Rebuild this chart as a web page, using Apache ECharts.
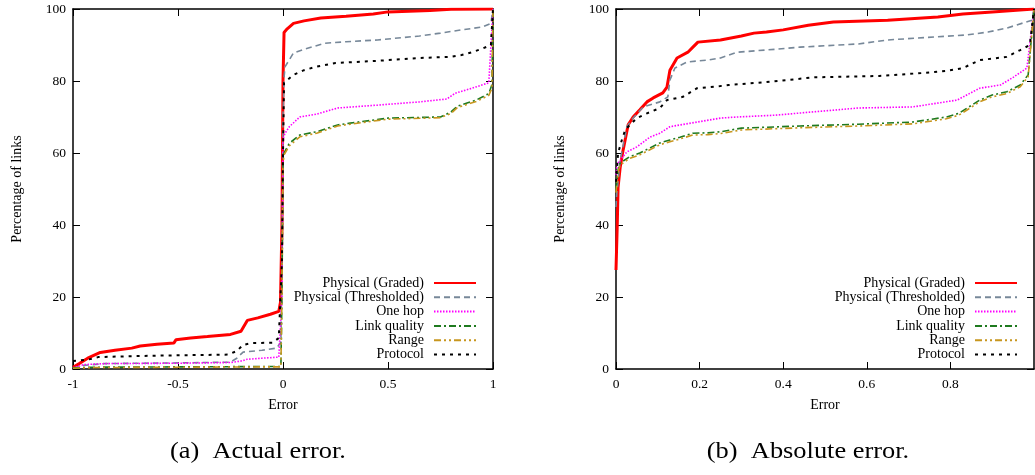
<!DOCTYPE html>
<html>
<head>
<meta charset="utf-8">
<script src="https://cdn.jsdelivr.net/npm/echarts@6/dist/echarts.min.js"></script>
<style>
  html, body { margin: 0; padding: 0; background: #fff; }
  #chart { width: 1035px; height: 475px; }
</style>
</head>
<body>
<div id="chart"></div>
<script>
// Series names, in legend order
const seriesNames = ['Physical (Graded)', 'Physical (Thresholded)', 'One hop', 'Link quality', 'Range', 'Protocol'];

// Tick values
const actualTicks = [-1, -0.5, 0, 0.5, 1];
const absoluteTicks = [0, 0.2, 0.4, 0.6, 0.8, 1];
const percentTicks = [0, 20, 40, 60, 80, 100];

// (a) Actual error: [error, percentage of links]
const actualGraded = [[-1,0.5],[-0.97,1.5],[-0.93,3],[-0.87,4.6],[-0.8,5.2],[-0.72,5.8],[-0.68,6.4],[-0.6,6.9],[-0.52,7.2],[-0.51,8.1],[-0.44,8.6],[-0.36,9.0],[-0.25,9.6],[-0.2,10.5],[-0.17,13.5],[-0.12,14.2],[-0.06,15.2],[-0.02,16],[-0.012,18.5],[-0.005,40],[0,80],[0.005,93.5],[0.02,94.5],[0.05,96],[0.1,96.7],[0.18,97.5],[0.3,98],[0.43,98.6],[0.5,99.2],[0.7,99.6],[0.8,99.9],[1,100]];
const actualThresholded = [[-1,0.3],[-0.95,1.0],[-0.85,1.5],[-0.5,1.7],[-0.25,1.9],[-0.22,3],[-0.19,4.7],[-0.1,5.2],[-0.03,5.8],[-0.01,7.5],[-0.005,30],[0,70],[0.005,81],[0.01,84],[0.05,87.8],[0.1,88.8],[0.2,90.5],[0.3,90.9],[0.45,91.4],[0.65,92.5],[0.75,93.3],[0.85,94.2],[0.95,95],[0.99,96],[1,100]];
const actualOneHop = [[-1,0.3],[-0.95,1.2],[-0.85,1.5],[-0.5,1.6],[-0.25,1.8],[-0.2,2.2],[-0.17,2.7],[-0.1,3],[-0.02,3.3],[-0.005,20],[0,64],[0.01,65.5],[0.03,67.3],[0.08,70],[0.16,70.8],[0.26,72.5],[0.45,73.3],[0.65,74.2],[0.78,75],[0.82,76.6],[0.9,78],[0.98,79.5],[1,100]];
const actualLinkQuality = [[-1,0.3],[-0.9,0.5],[-0.01,0.7],[-0.005,20],[0,58],[0.005,60],[0.03,62.7],[0.08,65],[0.16,65.9],[0.26,67.8],[0.32,68.3],[0.5,69.7],[0.75,70],[0.8,71.4],[0.83,73],[0.92,74.7],[0.98,76.5],[0.995,79],[1,100]];
const actualRange = [[-1,0.2],[-0.9,0.4],[-0.01,0.6],[-0.005,20],[0,57],[0.005,59.5],[0.03,62],[0.08,64.5],[0.16,65.5],[0.26,67.5],[0.32,68],[0.5,69.4],[0.75,69.8],[0.8,71],[0.83,72.6],[0.92,74.3],[0.98,76],[0.995,78],[1,100]];
const actualProtocol = [[-1,2.2],[-0.93,2.6],[-0.88,3.3],[-0.7,3.6],[-0.5,3.8],[-0.26,4.0],[-0.22,5],[-0.19,6.7],[-0.15,7.2],[-0.05,7.3],[-0.02,8.6],[-0.005,30],[0,60],[0.005,79.5],[0.05,81.7],[0.1,83],[0.16,84],[0.25,85],[0.45,85.6],[0.65,86.4],[0.8,86.7],[0.85,87.2],[0.9,88],[0.95,89],[0.99,90],[1,100]];

// (b) Absolute error: [error, percentage of links]
const absGraded = [[0,27.5],[0.003,40],[0.005,50.5],[0.01,56],[0.017,60.8],[0.029,67.8],[0.041,70],[0.057,72],[0.074,74.2],[0.089,75.3],[0.112,76.7],[0.122,78.3],[0.129,83],[0.146,86.4],[0.172,88],[0.184,89.4],[0.196,90.8],[0.25,91.4],[0.3,92.5],[0.33,93.3],[0.36,93.6],[0.4,94.2],[0.46,95.5],[0.52,96.4],[0.65,96.9],[0.77,97.8],[0.83,98.6],[0.9,99.2],[1,100]];
const absThresholded = [[0,45],[0.002,49],[0.01,58],[0.026,67.3],[0.041,69.7],[0.065,72.8],[0.105,74.2],[0.124,75.6],[0.129,80.3],[0.141,83.6],[0.17,85.3],[0.22,85.8],[0.25,86.4],[0.29,88],[0.38,88.8],[0.44,89.4],[0.58,90.3],[0.65,91.4],[0.84,92.8],[0.89,93.6],[0.935,94.7],[0.995,96.9],[1,100]];
const absOneHop = [[0,54],[0.003,57],[0.01,58],[0.026,60.3],[0.05,61.7],[0.081,64.4],[0.105,65.5],[0.129,67.3],[0.153,67.8],[0.194,68.6],[0.25,69.7],[0.29,70],[0.38,70.5],[0.44,71.1],[0.58,72.5],[0.71,72.8],[0.816,74.7],[0.87,78],[0.92,78.9],[0.95,81],[0.983,83.6],[1,100]];
const absLinkQuality = [[0,50],[0.005,55.3],[0.01,57.2],[0.033,59],[0.057,60],[0.081,61.4],[0.105,62.8],[0.129,63.6],[0.153,64.4],[0.184,65.5],[0.22,65.6],[0.25,65.9],[0.3,66.9],[0.44,67.5],[0.58,68],[0.71,68.6],[0.79,70],[0.82,71],[0.87,74.7],[0.9,76.1],[0.935,77],[0.967,78.9],[0.986,81.7],[1,100]];
const absRange = [[0,49],[0.005,54.8],[0.01,56.7],[0.033,58.5],[0.057,59.5],[0.081,60.9],[0.105,62.3],[0.129,63.1],[0.153,63.9],[0.184,65],[0.22,65.1],[0.25,65.4],[0.3,66.4],[0.44,67],[0.58,67.5],[0.71,68.1],[0.79,69.5],[0.82,70.5],[0.87,74.2],[0.9,75.6],[0.935,76.5],[0.967,78.4],[0.986,81.2],[1,100]];
const absProtocol = [[0,52],[0.002,55.3],[0.005,60],[0.014,63.6],[0.022,66.4],[0.033,67.8],[0.05,69.7],[0.074,71],[0.105,72.5],[0.122,74.7],[0.16,75.6],[0.194,78],[0.25,78.6],[0.27,78.9],[0.36,79.7],[0.43,80.5],[0.47,81],[0.63,81.4],[0.73,82.2],[0.79,82.8],[0.83,83.6],[0.87,85.8],[0.935,86.7],[0.967,88.6],[0.99,90],[1,100]];

const actualData = [actualGraded, actualThresholded, actualOneHop, actualLinkQuality, actualRange, actualProtocol];
const absData = [absGraded, absThresholded, absOneHop, absLinkQuality, absRange, absProtocol];

const FONT = '"Liberation Serif", "DejaVu Serif", serif';

// Line appearance per series
const styles = [
  { color: '#ff0000', width: 3,   type: 'solid' },
  { color: '#778899', width: 1.6, type: [6, 4] },
  { color: '#ff00ff', width: 1.6, type: [1.5, 1.5] },
  { color: '#1f7a1f', width: 1.6, type: [7, 3, 2, 3] },
  { color: '#c8961e', width: 1.6, type: [7, 3, 2, 3, 2, 3] },
  { color: '#000000', width: 2,   type: [3, 5] }
];

// axisIdx: index of the bottom x axis / left y axis of the panel
function buildSeries(dataSets, axisIdx) {
  return dataSets.map((d, i) => ({
    name: seriesNames[i],
    type: 'line',
    xAxisIndex: axisIdx,
    yAxisIndex: axisIdx,
    data: d,
    showSymbol: false,
    symbol: 'none',
    animation: false,
    silent: true,
    z: 2 + i,
    lineStyle: { color: styles[i].color, width: styles[i].width, type: styles[i].type },
    itemStyle: { color: styles[i].color }
  }));
}

const tickStyle = { show: true, inside: true, length: 7, lineStyle: { color: '#000', width: 1 } };
const frameLine = { show: true, onZero: false, lineStyle: { color: '#000', width: 1.5 } };
const labelStyle = { color: '#000', fontFamily: FONT, fontSize: 13.5 };

function xAxes(gridIndex, min, max, interval, hideMax) {
  return [
    {
      type: 'value', gridIndex, min, max, interval, position: 'bottom',
      name: 'Error', nameLocation: 'middle', nameGap: 29,
      nameTextStyle: { color: '#000', fontFamily: FONT, fontSize: 14 },
      axisLine: frameLine,
      axisTick: tickStyle,
      axisLabel: Object.assign({ margin: 8, showMaxLabel: !hideMax, showMinLabel: true }, labelStyle),
      splitLine: { show: false }
    },
    {
      type: 'value', gridIndex, min, max, interval, position: 'top',
      axisLine: frameLine, axisTick: tickStyle, axisLabel: { show: false }, splitLine: { show: false }
    }
  ];
}

function yAxes(gridIndex) {
  return [
    {
      type: 'value', gridIndex, min: 0, max: 100, interval: 20, position: 'left',
      name: 'Percentage of links', nameLocation: 'middle', nameGap: 49, nameRotate: 90,
      nameTextStyle: { color: '#000', fontFamily: FONT, fontSize: 14 },
      axisLine: frameLine,
      axisTick: tickStyle,
      axisLabel: Object.assign({ margin: 7 }, labelStyle),
      splitLine: { show: false }
    },
    {
      type: 'value', gridIndex, min: 0, max: 100, interval: 20, position: 'right',
      axisLine: frameLine, axisTick: tickStyle, axisLabel: { show: false }, splitLine: { show: false }
    }
  ];
}

const xa = xAxes(0, -1, 1, 0.5, false).concat(xAxes(1, 0, 1, 0.2, true));
const ya = yAxes(0).concat(yAxes(1));
// panel (a) uses axes 0, panel (b) uses axes 2
const series = buildSeries(actualData, 0).concat(buildSeries(absData, 2));

function legendAt(right) {
  return {
    data: seriesNames,
    orient: 'vertical',
    align: 'right',
    right: right,
    top: 274,
    itemWidth: 42,
    itemHeight: 10,
    itemGap: 0.3,
    selectedMode: false,
    padding: [2, 0, 2, 2],
    itemStyle: { opacity: 0 },
    textStyle: { color: '#000', fontFamily: FONT, fontSize: 14, lineHeight: 14, padding: [0, 5, 0, 0] }
  };
}

const captionFont = '24px "Liberation Serif", serif';

const option = {
  backgroundColor: '#fff',
  animation: false,
  grid: [
    { left: 73, top: 9, width: 420, height: 360, containLabel: false },
    { left: 616, top: 9, width: 418, height: 360, containLabel: false }
  ],
  xAxis: xa,
  yAxis: ya,
  legend: [legendAt(558), legendAt(17)],
  series: series,
  graphic: [
    { type: 'text', x: 258, y: 452, scaleX: 1.1, style: { text: '(a)  Actual error.', fill: '#000', font: captionFont, align: 'center', verticalAlign: 'middle' } },
    { type: 'text', x: 808, y: 452, scaleX: 1.1, style: { text: '(b)  Absolute error.', fill: '#000', font: captionFont, align: 'center', verticalAlign: 'middle' } }
  ]
};

const chart = echarts.init(document.getElementById('chart'), null, { renderer: 'canvas' });
chart.setOption(option);
</script>
</body>
</html>
